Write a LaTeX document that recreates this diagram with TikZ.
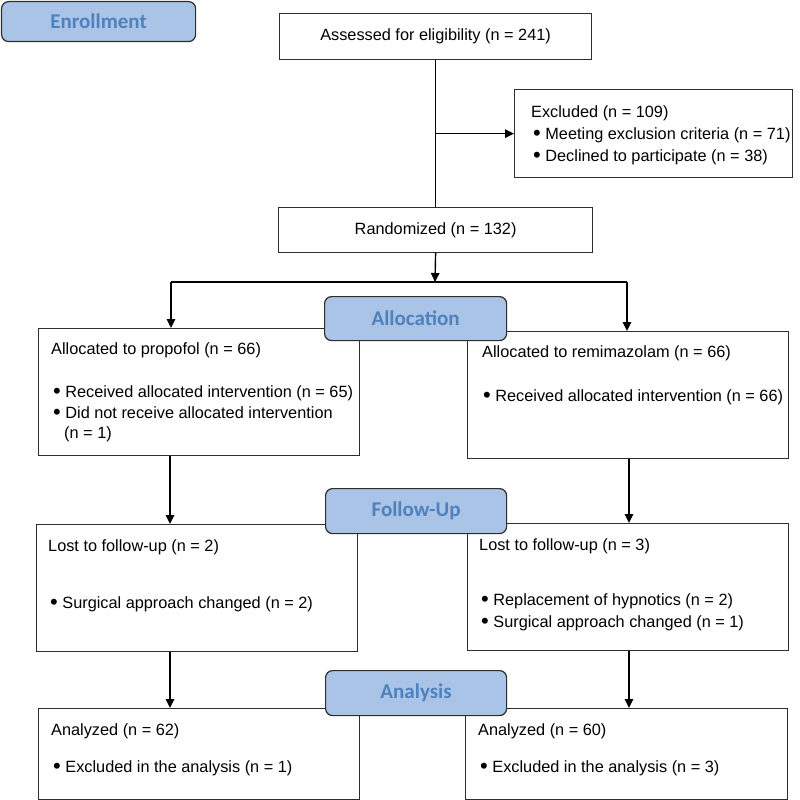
\documentclass[tikz,border=0pt]{standalone}
\usepackage{fontspec}
\setmainfont{Liberation Sans}
\newfontfamily\labelfont{Carlito}
\usetikzlibrary{arrows.meta}
\definecolor{lblfill}{RGB}{170,196,232}
\definecolor{lbltext}{RGB}{79,129,189}
\definecolor{boxline}{RGB}{45,45,45}
\newcommand\mybul{\raisebox{-1.6pt}{\fontsize{22}{20}\selectfont\textbullet}\hspace{4.5pt}}
\tikzset{
  flowbox/.style={draw=boxline, line width=1.2pt, fill=white, rectangle, inner sep=0pt, anchor=north west, font=\fontsize{16.3}{20}\selectfont},
  stagebox/.style={draw=boxline, line width=1.2pt, fill=lblfill, rounded corners=7pt, inner sep=0pt, anchor=north west, font=\labelfont\bfseries\fontsize{21}{25}\selectfont, text=lbltext},
  txt/.style={anchor=west, inner sep=0pt, font=\fontsize{16.3}{20}\selectfont},
  conn/.style={line width=1.4pt, draw=black, -{Triangle[length=9pt,width=8.5pt]}},
  plainline/.style={line width=1.4pt, draw=black}
}
\begin{document}
\begin{tikzpicture}[x=1pt,y=-1pt]
\useasboundingbox (0,0) rectangle (800,800);
% flow boxes
\node[flowbox, minimum width=312pt, minimum height=46pt] (assess) at (279,13) {Assessed for eligibility (n = 241)};
\node[flowbox, minimum width=278pt, minimum height=88pt] (excl) at (514,89) {};
\node[flowbox, minimum width=314pt, minimum height=45pt] (rand) at (278,207) {Randomized (n = 132)};
\node[flowbox, minimum width=321pt, minimum height=127pt] (alL) at (38,328) {};
\node[flowbox, minimum width=321pt, minimum height=127pt] (alR) at (467,331) {};
\node[flowbox, minimum width=321pt, minimum height=127pt] (fuL) at (36,524) {};
\node[flowbox, minimum width=321pt, minimum height=127pt] (fuR) at (467,523) {};
\node[flowbox, minimum width=321pt, minimum height=91pt] (anL) at (38,708) {};
\node[flowbox, minimum width=322pt, minimum height=91pt] (anR) at (465,708) {};
% texts
\node[txt] (ex1) at (531,113) {Excluded (n = 109)};
\node[txt] (ex2) at (533,135) {\mybul Meeting exclusion criteria (n = 71)};
\node[txt] (ex3) at (533,157) {\mybul Declined to participate (n = 38)};
\node[txt] (al1) at (51,350) {Allocated to propofol (n = 66)};
\node[txt] (al2) at (53,393) {\mybul Received allocated intervention (n = 65)};
\node[txt] (al3) at (53,413) {\mybul Did not receive allocated intervention};
\node[txt] (al4) at (64,434) {(n = 1)};
\node[txt] (ar1) at (482,353) {Allocated to remimazolam (n = 66)};
\node[txt] (ar2) at (483,397) {\mybul Received allocated intervention (n = 66)};
\node[txt] (fl1) at (48,547) {Lost to follow-up (n = 2)};
\node[txt] (fl2) at (50,604) {\mybul Surgical approach changed (n = 2)};
\node[txt] (fr1) at (479,546) {Lost to follow-up (n = 3)};
\node[txt] (fr2) at (481,601) {\mybul Replacement of hypnotics (n = 2)};
\node[txt] (fr3) at (481,623) {\mybul Surgical approach changed (n = 1)};
\node[txt] (nl1) at (51,731) {Analyzed (n = 62)};
\node[txt] (nl2) at (53,768) {\mybul Excluded in the analysis (n = 1)};
\node[txt] (nr1) at (478,731) {Analyzed (n = 60)};
\node[txt] (nr2) at (480,768) {\mybul Excluded in the analysis (n = 3)};
% connectors
\coordinate (split) at (435,282);
\coordinate (sl) at (171,282);
\coordinate (sr) at (627,282);
\coordinate (cl) at (170,0);
\coordinate (cr) at (629,0);
\draw[plainline] (assess.south) -- (rand.north);
\draw[conn] (assess.south |- excl.west) -- (excl.west);
\draw[conn] (rand.south) -- (split);
\draw[plainline] (sl) -- (sr);
\draw[conn] (sl) -- (sl |- alL.north);
\draw[conn] (sr) -- (sr |- alR.north);
\draw[conn] (cl |- alL.south) -- (cl |- fuL.north);
\draw[conn] (cr |- alR.south) -- (cr |- fuR.north);
\draw[conn] (cl |- fuL.south) -- (cl |- anL.north);
\draw[conn] (cr |- fuR.south) -- (cr |- anR.north);
% stage labels
\node[stagebox, minimum width=194pt, minimum height=40pt] (enroll) at (1,1) {Enrollment};
\node[stagebox, minimum width=182pt, minimum height=44pt] (alloc) at (324,296) {Allocation};
\node[stagebox, minimum width=181pt, minimum height=45pt] (follow) at (325,488) {Follow-Up};
\node[stagebox, minimum width=181pt, minimum height=45pt] (analysis) at (325,670) {Analysis};
\end{tikzpicture}
\end{document}
